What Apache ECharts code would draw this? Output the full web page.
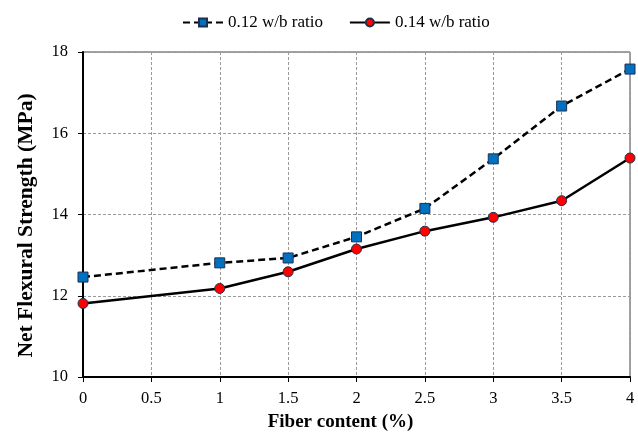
<!DOCTYPE html>
<html><head><meta charset="utf-8">
<script src="https://cdn.jsdelivr.net/npm/echarts@6/dist/echarts.min.js"></script>
<style>html,body{margin:0;padding:0;background:#fff}#c{width:638px;height:432px}</style>
</head><body><div id="c"></div>
<script>
const fiber = [0, 1, 1.5, 2, 2.5, 3, 3.5, 4];
const wb012 = [12.46, 12.81, 12.93, 13.45, 14.15, 15.37, 16.67, 17.58];
const wb014 = [11.81, 12.18, 12.59, 13.15, 13.59, 13.93, 14.34, 15.39];
const seriesNames = ['0.12 w/b ratio', '0.14 w/b ratio'];
const font = '"Liberation Serif", "Times New Roman", serif';
const chart = echarts.init(document.getElementById('c'), null, {renderer: 'canvas'});
chart.setOption({
  animation: false,
  textStyle: {fontFamily: font},
  legend: {
    top: 9, left: 177, itemWidth: 40, itemHeight: 10, itemGap: 26,
    textStyle: {fontFamily: font, fontSize: 17, color: '#000'},
    data: seriesNames
  },
  grid: {left: 83, right: 8, top: 52, bottom: 55, show: true, borderColor: '#444', borderWidth: 1,
         outerBoundsMode: 'none', containLabel: false},
  xAxis: {
    type: 'value', min: 0, max: 4, interval: 0.5,
    name: 'Fiber content (%)', nameLocation: 'middle', nameGap: 36,
    nameTextStyle: {fontFamily: font, fontSize: 19, fontWeight: 'bold', color: '#000', padding: [0, 32, 0, 0]},
    axisLine: {lineStyle: {color: '#000', width: 2}},
    axisTick: {show: true, length: 5, lineStyle: {color: '#000'}},
    axisLabel: {fontFamily: font, fontSize: 16.5, color: '#000', margin: 13},
    splitLine: {show: true, lineStyle: {color: '#999', type: [3, 2], width: 1}}
  },
  yAxis: {
    type: 'value', min: 10, max: 18, interval: 2,
    name: 'Net Flexural Strength (MPa)', nameLocation: 'middle', nameGap: 46,
    nameTextStyle: {fontFamily: font, fontSize: 21.5, fontWeight: 'bold', color: '#000', padding: [0, 22, 0, 0]},
    axisLine: {show: true, lineStyle: {color: '#000', width: 2}},
    axisTick: {show: true, length: 5, lineStyle: {color: '#000'}},
    axisLabel: {fontFamily: font, fontSize: 16.5, color: '#000', margin: 15},
    splitLine: {show: true, lineStyle: {color: '#999', type: [3, 2], width: 1}}
  },
  series: [
    {
      name: seriesNames[0], type: 'line',
      data: fiber.map((x, i) => [x, wb012[i]]),
      symbol: 'rect', symbolSize: 10,
      lineStyle: {color: '#000', width: 2.5, type: [7, 4]},
      itemStyle: {color: '#0070C0', borderColor: '#1F2F4F', borderWidth: 1}
    },
    {
      name: seriesNames[1], type: 'line',
      data: fiber.map((x, i) => [x, wb014[i]]),
      symbol: 'circle', symbolSize: 10,
      lineStyle: {color: '#000', width: 2.5},
      itemStyle: {color: '#FF0000', borderColor: '#1F2F4F', borderWidth: 1}
    }
  ]
});
</script></body></html>
